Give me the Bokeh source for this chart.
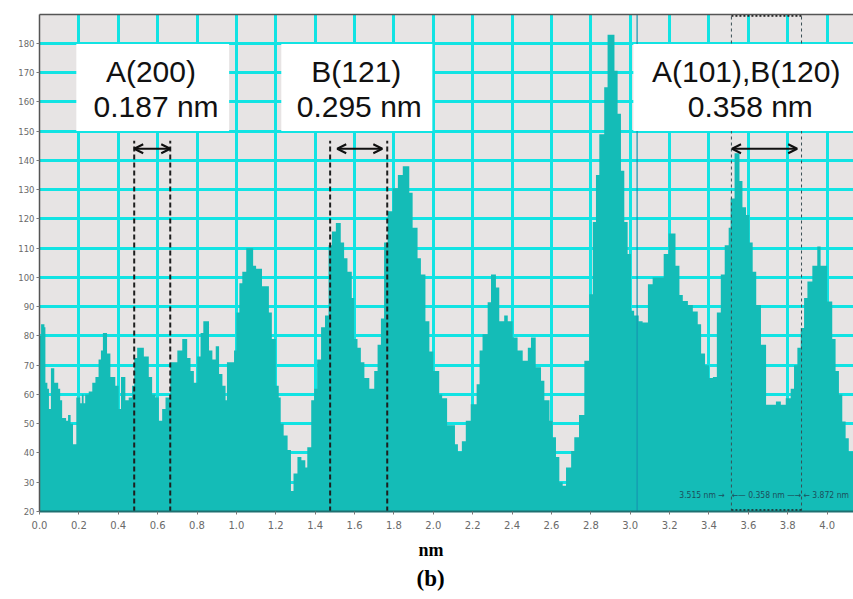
from bokeh.plotting import figure
from bokeh.models import (Range1d, FixedTicker, PrintfTickFormatter, Label, Arrow,
                          OpenHead, LinearAxis, Title)
from bokeh.embed import file_html
from bokeh.resources import INLINE

# ---- data: step profile (left edge of each step, intensity) ----
x_edges = [0.000, 0.008, 0.025, 0.030, 0.040, 0.048, 0.058, 0.075, 0.095, 0.105,
           0.115, 0.135, 0.145, 0.158, 0.170, 0.187, 0.207, 0.215, 0.224, 0.232,
           0.250, 0.268, 0.284, 0.300, 0.312, 0.322, 0.343, 0.360, 0.385, 0.402,
           0.414, 0.436, 0.453, 0.470, 0.481, 0.496, 0.530, 0.555, 0.572, 0.589,
           0.606, 0.623, 0.640, 0.664, 0.700, 0.725, 0.750, 0.767, 0.784, 0.801,
           0.818, 0.832, 0.861, 0.878, 0.895, 0.912, 0.929, 0.945, 0.952, 0.988,
           1.000, 1.015, 1.030, 1.050, 1.085, 1.100, 1.130, 1.165, 1.180, 1.200,
           1.215, 1.225, 1.240, 1.260, 1.277, 1.290, 1.310, 1.330, 1.350, 1.360,
           1.380, 1.395, 1.410, 1.430, 1.450, 1.468, 1.485, 1.505, 1.530, 1.547,
           1.564, 1.586, 1.598, 1.615, 1.632, 1.650, 1.675, 1.700, 1.717, 1.734,
           1.750, 1.768, 1.793, 1.820, 1.845, 1.878, 1.895, 1.920, 1.937, 1.960,
           1.980, 2.000, 2.030, 2.045, 2.070, 2.110, 2.125, 2.145, 2.165, 2.190,
           2.220, 2.235, 2.250, 2.276, 2.293, 2.318, 2.335, 2.360, 2.378, 2.403,
           2.428, 2.454, 2.480, 2.496, 2.520, 2.547, 2.564, 2.590, 2.606, 2.623,
           2.640, 2.657, 2.674, 2.700, 2.716, 2.740, 2.767, 2.792, 2.810, 2.826,
           2.843, 2.868, 2.885, 2.920, 2.936, 2.953, 2.970, 2.987, 3.004, 3.020,
           3.043, 3.063, 3.090, 3.114, 3.140, 3.170, 3.195, 3.230, 3.250, 3.267,
           3.293, 3.318, 3.343, 3.360, 3.380, 3.400, 3.420, 3.440, 3.460, 3.480,
           3.500, 3.510, 3.530, 3.555, 3.570, 3.588, 3.605, 3.622, 3.640, 3.664,
           3.690, 3.740, 3.765, 3.790, 3.815, 3.832, 3.849, 3.866, 3.883, 3.900,
           3.925, 3.950, 3.967, 4.000, 4.026, 4.043, 4.060, 4.077, 4.094, 4.110,
           4.140]
intensity = [80, 84, 83, 64, 62, 55, 69, 64, 62, 58,
             52, 51, 53, 50, 43, 59, 57, 60, 57, 60,
             61, 64, 66, 72, 75, 81, 74, 66, 63, 55,
             66, 58, 59, 63, 72.5, 76, 73, 66, 60, 59,
             51, 55, 59, 71, 75, 79, 72.5, 68, 64, 73,
             81, 85, 75, 72, 76.5, 67, 63, 58, 71, 75,
             88, 98, 102, 110, 104, 103, 97, 88, 79, 63,
             59, 50, 46, 41, 27, 33, 38.6, 37.5, 35, 42,
             58, 62, 72, 83, 87, 111, 115.7, 118.6, 112, 106.6,
             102, 93, 79, 76, 71, 65.6, 62, 68, 77, 86,
             112, 122.6, 130.5, 135, 138, 129, 117, 106.6, 101, 85,
             74.7, 68, 60, 58.7, 49.5, 43, 40.5, 44, 51, 56.7,
             63.5, 75, 80.6, 91.5, 101, 96.6, 85, 87, 85, 79.5,
             75, 71.5, 76, 79.5, 69.3, 64.7, 58, 51, 45.4, 38.6,
             30, 28.8, 35, 40.7, 45.4, 53, 71.5, 94.3, 119, 135,
             149, 165, 183, 170.7, 156, 136.5, 119, 108, 88.6, 87,
             85, 84.6, 97.7, 100, 100, 108, 115, 104, 94, 92,
             90.6, 88.4, 84, 74, 70, 65.6, 66, 88, 101, 111,
             117, 127, 142.5, 133, 124, 121.4, 112, 102, 90.6, 77,
             56.5, 57.6, 56.5, 58.7, 62, 70, 76, 82.7, 93, 98.6,
             104, 110.6, 104, 91.8, 79, 68, 60, 50.8, 45, 40.5,
             40.5]

x_ticks = [0.0, 0.2, 0.4, 0.6, 0.8, 1.0, 1.2, 1.4, 1.6, 1.8, 2.0,
           2.2, 2.4, 2.6, 2.8, 3.0, 3.2, 3.4, 3.6, 3.8, 4.0]
y_ticks = [20, 30, 40, 50, 60, 70, 80, 90, 100, 110, 120, 130, 140, 150, 160, 170, 180]

# annotation content
box_titles = ["A(200)", "B(121)", "A(101),B(120)"]
box_values = ["0.187 nm", "0.295 nm", "0.358 nm"]
box_left = [0.187, 1.228, 3.016]
box_right = [0.963, 1.995, 4.30]
pair_left = [0.481, 1.476, 3.514]
pair_right = [0.664, 1.766, 3.870]
marker_x = 3.035

FILL = "#14bcb7"
GRID = "#12e3e3"
BG = "#e7e4e4"
X_END = 4.134
Y_TOP = 189.9

p = figure(width=853, height=599, output_backend="svg", toolbar_location=None,
           x_range=Range1d(0, X_END), y_range=Range1d(20, Y_TOP),
           min_border_left=39, min_border_right=0, min_border_top=14, min_border_bottom=88)
p.background_fill_color = BG
p.border_fill_color = "white"
p.outline_line_color = None

# grid
p.xgrid.ticker = FixedTicker(ticks=x_ticks)
p.ygrid.ticker = FixedTicker(ticks=y_ticks)
for g in (p.xgrid, p.ygrid):
    g.grid_line_color = GRID
    g.grid_line_width = 3
    g.grid_line_alpha = 1.0

# axes
p.xaxis.ticker = FixedTicker(ticks=x_ticks)
p.yaxis.ticker = FixedTicker(ticks=y_ticks)
p.xaxis.formatter = PrintfTickFormatter(format="%.1f")
for ax in (p.xaxis, p.yaxis):
    ax.major_label_text_font = "DejaVu Sans"
    ax.major_label_text_color = "#6a6a6a"
    ax.minor_tick_line_color = None
    ax.major_tick_in = 0
    ax.major_tick_out = 3
    ax.major_tick_line_color = "#777777"
p.xaxis.major_label_text_font_size = "10px"
p.yaxis.major_label_text_font_size = "8.5px"
p.xaxis.axis_line_color = "#1f6f70"
p.xaxis.axis_line_width = 2
p.yaxis.axis_line_color = "#555555"
p.yaxis.axis_line_width = 1.5
p.xaxis.major_label_standoff = 6
p.yaxis.major_label_standoff = 2

top_axis = LinearAxis(ticker=FixedTicker(ticks=[]), axis_line_color="#555555",
                      axis_line_width=1.5, major_tick_line_color=None,
                      minor_tick_line_color=None)
p.add_layout(top_axis, "above")

# profile
p.varea_step(x=x_edges, y1=[20] * len(x_edges), y2=intensity, step_mode="after",
             fill_color=FILL, fill_alpha=1.0)

# thin marker line
p.segment(x0=[marker_x], y0=[20], x1=[marker_x], y1=[Y_TOP],
          line_color="#1596b0", line_width=1.2)

# dashed guide lines (first two pairs)
p.segment(x0=pair_left[:2] + pair_right[:2], y0=[20] * 4,
          x1=pair_left[:2] + pair_right[:2], y1=[146.7] * 4,
          line_color="#1e1e1e", line_width=2, line_dash="5 3")
# third pair, dotted thin, full height
p.segment(x0=[pair_left[2], pair_right[2]], y0=[20, 20],
          x1=[pair_left[2], pair_right[2]], y1=[Y_TOP, Y_TOP],
          line_color="#3a4f55", line_width=1, line_dash="3 3")
# dotted rectangle top/bottom
p.segment(x0=[pair_left[2], pair_left[2]], y0=[189.5, 20.4],
          x1=[pair_right[2], pair_right[2]], y1=[189.5, 20.4],
          line_color="#1e1e1e", line_width=2, line_dash="2 2")

# white boxes
p.quad(left=box_left, right=box_right, top=[179.8] * 3, bottom=[150.1] * 3,
       fill_color="white", line_color=None)

title_x = [0.566, 1.609, 3.589]
value_x = [0.592, 1.624, 3.610]
for i in range(3):
    p.add_layout(Label(x=title_x[i], y=170.3, text=box_titles[i], text_align="center",
                       text_baseline="middle", text_font="Liberation Sans",
                       text_font_size="30px", text_color="#111111"))
    p.add_layout(Label(x=value_x[i], y=158.4, text=box_values[i], text_align="center",
                       text_baseline="middle", text_font="Liberation Sans",
                       text_font_size="30px", text_color="#111111"))

# double arrows
arrow_x0 = [0.481, 1.512, 3.517]
arrow_x1 = [0.664, 1.741, 3.848]
for a, b in zip(arrow_x0, arrow_x1):
    p.add_layout(Arrow(x_start=a, y_start=144.0, x_end=b, y_end=144.0,
                       line_color="#111111", line_width=2,
                       start=OpenHead(size=9, line_width=2, line_color="#111111"),
                       end=OpenHead(size=9, line_width=2, line_color="#111111")))

# small measurement text
small = dict(text_baseline="middle", text_font="DejaVu Sans Condensed",
             text_font_size="8.5px", text_color="#1c4f5c")
p.add_layout(Label(x=3.480, y=25.8, text="3.515 nm \u2192", text_align="right", **small))
p.add_layout(Label(x=3.692, y=25.8, text="\u2190\u2014 0.358 nm \u2014\u2192", text_align="center", **small))
p.add_layout(Label(x=3.880, y=25.8, text="\u2190 3.872 nm", text_align="left", **small))

# axis title and panel letter (placed below the x axis)
t_nm = Title(text="nm", align="left", offset=379, standoff=12,
             text_font="Liberation Serif", text_font_style="bold",
             text_font_size="18px", text_color="#000000")
p.add_layout(t_nm, "below")
t_b = Title(text="(b)", align="left", offset=377, standoff=-3,
            text_font="Liberation Serif", text_font_style="bold",
            text_font_size="23px", text_color="#000000")
p.add_layout(t_b, "below")

open("out.html", "w").write(file_html(p, INLINE))
